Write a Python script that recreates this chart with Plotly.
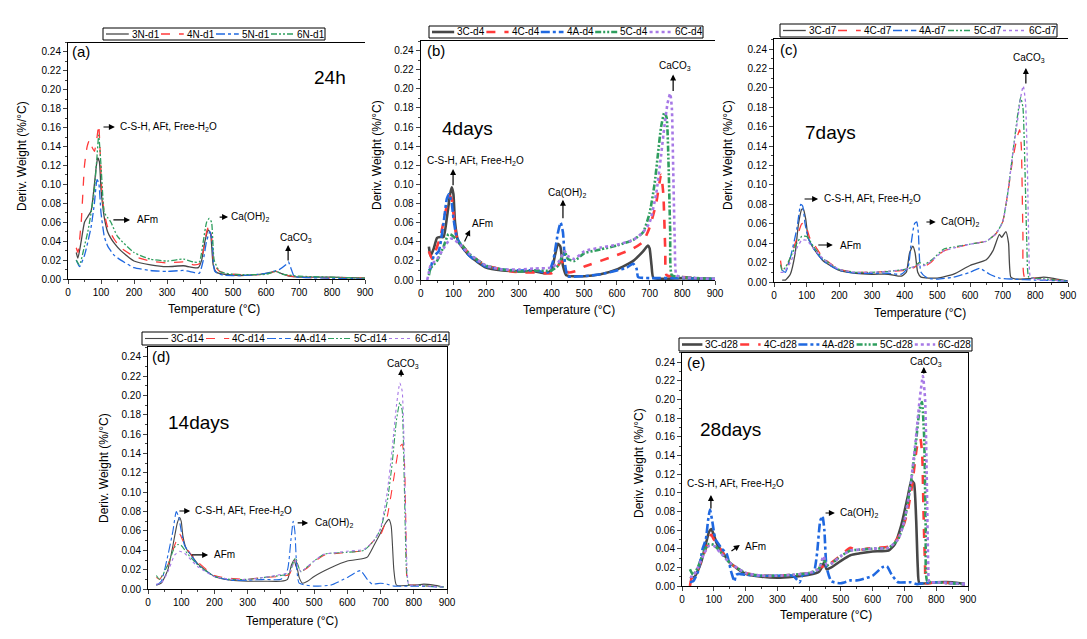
import plotly.graph_objects as go

W, H = 1087, 639
OFF = 8  # the page body adds an 8px margin around the figure

# ---------------- data (Temperature °C, Deriv. weight %/°C) ----------------
# (a) 24h
a_3N = [(25,0.028),(30,0.022),(40,0.04),(50,0.06),(60,0.066),(70,0.072),(80,0.1),(86,0.12),(90,0.128),(95,0.124),
        (100,0.095),(105,0.078),(110,0.065),(120,0.05),(130,0.043),(140,0.038),(160,0.03),(200,0.019),(250,0.015),
        (300,0.013),(350,0.014),(380,0.012),(395,0.012),(405,0.02),(415,0.04),(425,0.052),(432,0.048),(440,0.015),
        (450,0.007),(500,0.004),(550,0.004),(600,0.006),(630,0.008),(645,0.006),(670,0.003),(700,0.002),(800,0.002),(900,0.001)]
a_4N = [(25,0.033),(30,0.028),(40,0.06),(50,0.12),(58,0.14),(65,0.147),(72,0.14),(80,0.135),(88,0.15),(93,0.163),
        (98,0.13),(103,0.09),(110,0.07),(120,0.055),(140,0.042),(160,0.033),(200,0.024),(250,0.019),(300,0.017),
        (350,0.018),(380,0.015),(398,0.016),(410,0.03),(420,0.05),(427,0.056),(435,0.045),(443,0.015),(460,0.008),
        (500,0.005),(600,0.005),(630,0.008),(660,0.004),(700,0.002),(900,0.001)]
a_5N = [(25,0.02),(35,0.013),(50,0.025),(70,0.055),(80,0.08),(88,0.105),(93,0.102),(100,0.07),(110,0.045),(120,0.035),
        (140,0.025),(160,0.02),(200,0.012),(250,0.009),(300,0.008),(350,0.009),(380,0.007),(398,0.006),(410,0.02),
        (420,0.04),(430,0.05),(437,0.04),(445,0.008),(470,0.004),(550,0.004),(600,0.006),(640,0.01),(660,0.015),
        (668,0.018),(675,0.012),(685,0.003),(700,0.002),(900,0.0)]
a_6N = [(25,0.02),(35,0.015),(50,0.035),(60,0.05),(70,0.07),(80,0.095),(88,0.13),(93,0.152),(100,0.12),(105,0.09),
        (110,0.07),(120,0.065),(130,0.06),(150,0.045),(200,0.028),(250,0.021),(300,0.019),(350,0.021),(380,0.018),
        (398,0.018),(410,0.04),(420,0.06),(428,0.064),(435,0.06),(443,0.02),(460,0.008),(500,0.005),(600,0.005),
        (630,0.008),(650,0.005),(700,0.003),(900,0.001)]

# (b) 4 days
b_3C = [(25,0.035),(30,0.025),(40,0.033),(50,0.044),(60,0.045),(70,0.045),(80,0.065),(90,0.09),(95,0.097),(100,0.09),
        (105,0.06),(115,0.04),(130,0.033),(150,0.025),(200,0.013),(250,0.01),(300,0.009),(350,0.009),(380,0.007),
        (400,0.01),(410,0.025),(420,0.038),(427,0.035),(435,0.015),(445,0.005),(500,0.004),(550,0.006),(600,0.011),
        (650,0.02),(680,0.03),(695,0.036),(700,0.033),(706,0.015),(712,0.002),(800,0.002),(900,0.001)]
b_4C = [(25,0.03),(35,0.022),(45,0.03),(60,0.045),(75,0.07),(88,0.088),(95,0.085),(100,0.07),(110,0.045),(130,0.035),
        (150,0.027),(200,0.015),(250,0.011),(300,0.008),(350,0.008),(400,0.007),(415,0.012),(430,0.02),(440,0.015),
        (450,0.008),(480,0.01),(500,0.014),(550,0.02),(600,0.026),(650,0.033),(680,0.04),(700,0.055),(720,0.08),
        (735,0.11),(742,0.09),(748,0.03),(752,0.005),(800,0.003),(900,0.001)]
b_4A = [(25,0.01),(30,0.012),(40,0.025),(55,0.03),(70,0.06),(80,0.085),(87,0.09),(95,0.08),(100,0.065),(110,0.045),
        (130,0.033),(150,0.025),(200,0.014),(250,0.011),(300,0.01),(350,0.01),(390,0.008),(405,0.02),(420,0.05),
        (428,0.06),(435,0.05),(442,0.015),(450,0.004),(500,0.004),(550,0.006),(600,0.01),(630,0.013),(650,0.017),
        (660,0.012),(665,0.003),(700,0.002),(800,0.002),(900,0.001)]
b_5C = [(25,0.005),(30,0.012),(50,0.02),(70,0.035),(85,0.048),(95,0.047),(110,0.042),(130,0.035),(150,0.027),(200,0.015),
        (250,0.011),(300,0.009),(350,0.01),(400,0.01),(420,0.015),(440,0.03),(450,0.022),(470,0.02),(500,0.028),
        (550,0.032),(600,0.036),(650,0.042),(680,0.05),(700,0.07),(715,0.1),(725,0.13),(735,0.16),(745,0.175),
        (752,0.17),(758,0.12),(763,0.05),(768,0.005),(800,0.003),(900,0.001)]
b_6C = [(20,0.0),(25,0.008),(30,0.015),(50,0.022),(70,0.033),(90,0.043),(100,0.043),(120,0.037),(150,0.027),(200,0.015),
        (250,0.011),(300,0.011),(350,0.012),(400,0.013),(420,0.018),(440,0.03),(450,0.025),(470,0.022),(500,0.03),
        (550,0.034),(600,0.037),(650,0.042),(680,0.05),(700,0.06),(720,0.09),(735,0.13),(745,0.16),(755,0.185),
        (763,0.195),(768,0.18),(772,0.12),(777,0.04),(782,0.005),(800,0.003),(900,0.001)]

# (c) 7 days
c_3C = [(25,0.002),(35,0.002),(50,0.008),(65,0.03),(75,0.06),(85,0.075),(90,0.075),(97,0.065),(105,0.045),(120,0.035),
        (150,0.022),(200,0.012),(250,0.009),(300,0.008),(350,0.008),(390,0.006),(405,0.01),(415,0.03),(425,0.037),
        (432,0.03),(440,0.01),(450,0.005),(500,0.004),(550,0.008),(600,0.017),(650,0.023),(670,0.032),(690,0.049),
        (697,0.046),(710,0.052),(718,0.04),(725,0.005),(740,0.003),(800,0.004),(825,0.005),(850,0.004),(900,0.001)]
c_4C = [(20,0.022),(25,0.013),(35,0.012),(50,0.025),(70,0.045),(85,0.06),(95,0.06),(110,0.045),(130,0.035),(150,0.025),
        (200,0.013),(250,0.01),(300,0.01),(350,0.011),(400,0.012),(430,0.015),(445,0.02),(460,0.016),(480,0.02),
        (500,0.027),(520,0.032),(550,0.035),(600,0.039),(650,0.042),(680,0.05),(700,0.062),(715,0.09),(730,0.125),
        (745,0.15),(752,0.157),(757,0.14),(762,0.05),(767,0.005),(800,0.004),(900,0.001)]
c_4A = [(25,0.012),(35,0.01),(50,0.025),(70,0.055),(82,0.08),(88,0.078),(95,0.06),(105,0.045),(120,0.035),(150,0.022),
        (200,0.012),(250,0.009),(300,0.009),(350,0.009),(390,0.008),(410,0.015),(420,0.04),(430,0.06),(437,0.062),
        (442,0.05),(450,0.01),(470,0.004),(500,0.003),(550,0.005),(600,0.01),(630,0.014),(660,0.008),(690,0.004),
        (730,0.003),(800,0.002),(900,0.001)]
c_5C = [(20,0.018),(25,0.012),(35,0.015),(50,0.025),(70,0.04),(85,0.047),(100,0.047),(120,0.037),(150,0.024),(200,0.013),
        (250,0.01),(300,0.01),(350,0.011),(400,0.013),(430,0.016),(445,0.02),(460,0.018),(480,0.022),(500,0.028),
        (520,0.034),(550,0.036),(600,0.039),(650,0.042),(680,0.05),(700,0.062),(715,0.09),(730,0.13),(745,0.17),
        (755,0.19),(762,0.18),(768,0.12),(774,0.04),(780,0.005),(800,0.004),(900,0.001)]
c_6C = [(20,0.01),(30,0.01),(50,0.02),(70,0.035),(85,0.043),(100,0.043),(120,0.035),(150,0.024),(200,0.013),(250,0.01),
        (300,0.01),(350,0.011),(400,0.013),(430,0.016),(445,0.018),(460,0.017),(480,0.021),(500,0.027),(520,0.032),
        (550,0.035),(600,0.039),(650,0.042),(680,0.05),(700,0.062),(715,0.09),(730,0.13),(745,0.165),(755,0.19),
        (763,0.202),(770,0.185),(775,0.13),(780,0.04),(785,0.005),(800,0.003),(900,0.001)]

# (d) 14 days
d_3C = [(25,0.004),(40,0.006),(60,0.02),(75,0.045),(88,0.068),(95,0.074),(100,0.07),(105,0.055),(115,0.042),(130,0.035),
        (150,0.026),(200,0.013),(250,0.009),(300,0.008),(350,0.008),(400,0.008),(420,0.01),(432,0.025),(440,0.03),
        (445,0.024),(450,0.02),(455,0.012),(465,0.006),(480,0.008),(500,0.013),(550,0.022),(600,0.029),(640,0.031),
        (660,0.033),(680,0.045),(700,0.058),(715,0.068),(725,0.072),(732,0.065),(740,0.02),(748,0.004),(800,0.004),
        (830,0.005),(860,0.004),(890,0.002)]
d_4C = [(25,0.012),(35,0.01),(60,0.025),(80,0.045),(95,0.057),(105,0.05),(120,0.04),(150,0.028),(200,0.014),(250,0.011),
        (300,0.01),(350,0.012),(400,0.013),(425,0.015),(440,0.028),(445,0.03),(450,0.025),(460,0.018),(480,0.022),
        (500,0.028),(530,0.035),(550,0.036),(600,0.038),(650,0.04),(680,0.05),(700,0.056),(720,0.075),(740,0.115),
        (755,0.145),(765,0.15),(772,0.13),(777,0.05),(782,0.005),(800,0.004),(890,0.002)]
d_4A = [(25,0.004),(40,0.008),(60,0.035),(75,0.06),(85,0.08),(92,0.075),(100,0.06),(110,0.045),(130,0.035),(150,0.025),
        (200,0.013),(250,0.009),(300,0.009),(350,0.01),(400,0.01),(420,0.02),(430,0.05),(437,0.07),(442,0.06),
        (448,0.02),(455,0.006),(500,0.003),(550,0.004),(600,0.012),(630,0.018),(640,0.019),(660,0.01),(675,0.005),
        (700,0.006),(720,0.005),(740,0.003),(800,0.003),(890,0.002)]
d_5C = [(25,0.014),(35,0.01),(60,0.025),(80,0.043),(90,0.046),(100,0.045),(120,0.036),(150,0.025),(200,0.013),(250,0.01),
        (300,0.01),(350,0.012),(400,0.014),(425,0.016),(440,0.03),(445,0.032),(450,0.026),(460,0.018),(480,0.023),
        (500,0.029),(530,0.036),(550,0.037),(600,0.038),(650,0.04),(680,0.05),(700,0.062),(720,0.09),(735,0.13),
        (748,0.175),(758,0.193),(765,0.185),(772,0.1),(778,0.02),(785,0.004),(800,0.004),(890,0.002)]
d_6C = [(25,0.005),(40,0.006),(60,0.018),(80,0.035),(95,0.039),(110,0.037),(130,0.03),(150,0.023),(200,0.013),(250,0.01),
        (300,0.01),(350,0.012),(400,0.015),(425,0.017),(440,0.028),(445,0.03),(450,0.024),(460,0.018),(480,0.023),
        (500,0.029),(530,0.036),(550,0.037),(600,0.039),(650,0.041),(680,0.05),(700,0.063),(720,0.1),(735,0.145),
        (748,0.19),(758,0.213),(765,0.205),(770,0.16),(775,0.08),(780,0.02),(785,0.004),(800,0.004),(890,0.002)]

# (e) 28 days
e_3C = [(25,0.008),(40,0.01),(60,0.025),(75,0.045),(85,0.058),(92,0.061),(100,0.055),(110,0.045),(130,0.035),(150,0.025),
        (200,0.013),(250,0.01),(300,0.009),(350,0.01),(400,0.012),(430,0.015),(440,0.02),(447,0.025),(455,0.018),
        (470,0.02),(500,0.027),(530,0.033),(560,0.035),(600,0.037),(650,0.038),(670,0.045),(690,0.065),(710,0.095),
        (722,0.113),(730,0.11),(737,0.07),(742,0.02),(747,0.003),(800,0.004),(850,0.004),(890,0.002)]
e_4C = [(25,0.0),(30,0.008),(50,0.018),(70,0.035),(85,0.05),(92,0.055),(100,0.05),(120,0.04),(150,0.025),(200,0.014),
        (250,0.011),(300,0.011),(350,0.012),(400,0.014),(430,0.018),(440,0.021),(450,0.02),(470,0.025),(500,0.033),
        (530,0.041),(550,0.038),(580,0.04),(620,0.041),(660,0.043),(690,0.058),(710,0.08),(725,0.11),(740,0.15),
        (750,0.158),(756,0.14),(760,0.08),(765,0.02),(768,0.003),(800,0.004),(890,0.002)]
e_4A = [(25,0.004),(35,0.005),(50,0.015),(65,0.04),(75,0.05),(82,0.07),(88,0.082),(95,0.07),(105,0.05),(115,0.045),
        (125,0.04),(140,0.035),(155,0.015),(165,0.005),(170,0.012),(180,0.013),(200,0.012),(250,0.011),(300,0.011),
        (350,0.011),(370,0.004),(380,0.012),(400,0.013),(415,0.015),(425,0.035),(435,0.07),(442,0.075),(448,0.06),
        (455,0.02),(470,0.005),(500,0.003),(530,0.006),(550,0.006),(600,0.011),(630,0.02),(645,0.021),(660,0.012),
        (680,0.004),(720,0.004),(740,0.002),(760,0.003),(800,0.004),(890,0.002)]
e_5C = [(25,0.018),(35,0.012),(50,0.02),(70,0.038),(85,0.045),(100,0.044),(120,0.037),(150,0.025),(200,0.014),(250,0.011),
        (300,0.011),(350,0.012),(400,0.014),(430,0.018),(445,0.03),(455,0.022),(470,0.024),(500,0.032),(530,0.038),
        (560,0.039),(600,0.04),(650,0.041),(680,0.05),(700,0.07),(720,0.11),(735,0.15),(748,0.19),(755,0.197),
        (762,0.16),(767,0.06),(772,0.005),(800,0.004),(890,0.002)]
e_6C = [(25,0.01),(35,0.01),(50,0.02),(70,0.035),(85,0.043),(100,0.043),(120,0.036),(150,0.025),(200,0.014),(250,0.011),
        (300,0.011),(350,0.012),(400,0.014),(430,0.018),(445,0.032),(455,0.023),(470,0.024),(500,0.032),(530,0.038),
        (560,0.039),(600,0.04),(650,0.041),(680,0.05),(700,0.07),(720,0.11),(735,0.155),(748,0.2),(758,0.225),
        (765,0.2),(770,0.12),(775,0.02),(778,0.004),(800,0.004),(890,0.002)]

panel_series = [
    [("3N-d1", a_3N), ("4N-d1", a_4N), ("5N-d1", a_5N), ("6N-d1", a_6N)],
    [("3C-d4", b_3C), ("4C-d4", b_4C), ("4A-d4", b_4A), ("5C-d4", b_5C), ("6C-d4", b_6C)],
    [("3C-d7", c_3C), ("4C-d7", c_4C), ("4A-d7", c_4A), ("5C-d7", c_5C), ("6C-d7", c_6C)],
    [("3C-d14", d_3C), ("4C-d14", d_4C), ("4A-d14", d_4A), ("5C-d14", d_5C), ("6C-d14", d_6C)],
    [("3C-d28", e_3C), ("4C-d28", e_4C), ("4A-d28", e_4A), ("5C-d28", e_5C), ("6C-d28", e_6C)],
]
panel_letters = ["(a)", "(b)", "(c)", "(d)", "(e)"]
panel_ages = ["24h", "4days", "7days", "14days", "28days"]
x_ticks = [0, 100, 200, 300, 400, 500, 600, 700, 800, 900]
y_ticks = [0.00, 0.02, 0.04, 0.06, 0.08, 0.10, 0.12, 0.14, 0.16, 0.18, 0.20, 0.22, 0.24]

# ---------------- styling / layout ----------------
FONT = "Arial, Liberation Sans, sans-serif"
styles = [
    dict(color="#474747", dash="solid"),
    dict(color="#FF3A3A", dash="dash"),
    dict(color="#1F68E0", dash="dashdot"),
    dict(color="#2E9E5E", dash="6px,2px,2px,2px,2px,2px"),
    dict(color="#A779E6", dash="dot"),
]


def px_x(px):
    return (px - OFF) / W


def px_y(py):
    return 1 - (py - OFF) / H


# pixel boxes on screen: (left, right, bottom(y=0), top(y=0.25))
boxes = [(68, 365, 279, 42.5), (420.7, 715, 280, 41), (774, 1068, 282, 39.3),
         (148, 447, 589, 347.3), (682, 968, 586, 352.7)]
widths = [1.3, 2.6, 1.3, 1.1, 2.6]
mirror_y = [False, False, False, True, True]
# legend boxes on screen: (left, top, right, bottom)
legend_boxes = [(103, 28, 325, 40), (429, 26, 703, 38), (780, 24, 1057, 37),
                (142, 332, 449, 345), (679, 338, 972, 351)]
LEG_FONT = 10
CHARW = {"-": 0.333, "N": 0.722, "C": 0.722, "A": 0.667, "d": 0.556}

fig = go.Figure()
for p, series in enumerate(panel_series):
    ax = "" if p == 0 else str(p + 1)
    for s, (name, pts) in enumerate(series):
        fig.add_trace(go.Scatter(
            x=[t for t, _ in pts], y=[w for _, w in pts], name=name, mode="lines", showlegend=False,
            line=dict(color=styles[s]["color"], dash=styles[s]["dash"], width=widths[p],
                      shape="spline", smoothing=0.5),
            xaxis="x" + ax, yaxis="y" + ax))

layout = dict(width=W, height=H, margin=dict(l=0, r=0, t=0, b=0, autoexpand=False),
              paper_bgcolor="white", plot_bgcolor="white", showlegend=False,
              font=dict(family=FONT, size=10, color="black"))
for p, (l, r, b, t) in enumerate(boxes):
    ax = "" if p == 0 else str(p + 1)
    layout["xaxis" + ax] = dict(
        domain=[px_x(l), px_x(r)], range=[0, 900], anchor="y" + ax,
        tickvals=x_ticks, ticks="outside", ticklen=4, showline=True, linecolor="black",
        linewidth=1, mirror=True, showgrid=False, zeroline=False,
        minor=dict(dtick=50, ticks="outside", ticklen=2), tickfont=dict(size=10))
    layout["yaxis" + ax] = dict(
        domain=[px_y(b), px_y(t)], range=[0, 0.25], anchor="x" + ax,
        tickvals=y_ticks, tickformat=".2f", ticks="outside", ticklen=4, showline=True,
        linecolor="black", linewidth=1, mirror=mirror_y[p], showgrid=False, zeroline=False,
        minor=dict(dtick=0.01, ticks="outside", ticklen=2), tickfont=dict(size=10))
fig.update_layout(**layout)

# annotations: (text, x, y, xanchor) in data coords, and arrows (tail -> head)
texts = [
    [("C-S-H, AFt, Free-H<sub>2</sub>O", 152, 0.1607, "left"), ("AFm", 203, 0.0624, "left"),
     ("Ca(OH)<sub>2</sub>", 488, 0.0655, "left"), ("CaCO<sub>3</sub>", 691, 0.0433, "center")],
    [("C-S-H, AFt, Free-H<sub>2</sub>O", 169, 0.1247, "center"), ("AFm", 151, 0.0587, "left"),
     ("Ca(OH)<sub>2</sub>", 448, 0.0912, "center"), ("CaCO<sub>3</sub>", 778, 0.2243, "center")],
    [("C-S-H, AFt, Free-H<sub>2</sub>O", 147, 0.0855, "left"), ("AFm", 196, 0.0381, "left"),
     ("Ca(OH)<sub>2</sub>", 505, 0.0618, "left"), ("CaCO<sub>3</sub>", 780, 0.2307, "center")],
    [("C-S-H, AFt, Free-H<sub>2</sub>O", 136, 0.0807, "left"), ("AFm", 193, 0.0352, "left"),
     ("Ca(OH)<sub>2</sub>", 497, 0.0683, "left"), ("CaCO<sub>3</sub>", 768, 0.2327, "center")],
    [("C-S-H, AFt, Free-H<sub>2</sub>O", 167, 0.1093, "center"), ("AFm", 192, 0.0418, "left"),
     ("Ca(OH)<sub>2</sub>", 491, 0.0782, "left"), ("CaCO<sub>3</sub>", 767, 0.240, "center")],
]
arrows = [
    [(103, 0.1607, 142, 0.1607), (133, 0.0624, 188, 0.0624), (455, 0.0655, 485, 0.0655), (667, 0.018, 667, 0.036)],
    [(99, 0.0975, 99, 0.116), (132, 0.0388, 151, 0.0524), (435, 0.0629, 435, 0.0839), (772, 0.196, 772, 0.215)],
    [(89, 0.0855, 135, 0.0855), (131, 0.0381, 180, 0.0381), (462, 0.0618, 495, 0.0618), (771, 0.2029, 771, 0.2204)],
    [(90, 0.0807, 127, 0.0807), (127, 0.0352, 181, 0.0352), (446, 0.0683, 482, 0.0683), (762, 0.2182, 762, 0.2275)],
    [(91, 0.0815, 91, 0.0975), (151, 0.0364, 182, 0.0439), (447, 0.0782, 481, 0.0782), (761, 0.2262, 761, 0.2347)],
]
age_pos = [(794, 0.2125), (142, 0.158), (174, 0.1545), (151, 0.1727), (154, 0.1672)]
letter_x = [6, 13, 12, 6, 9]

anns = []
shapes = []
for p in range(5):
    ax = "" if p == 0 else str(p + 1)
    xr, yr = "x" + ax, "y" + ax
    anns.append(dict(text=panel_letters[p], x=letter_x[p], y=0.24, xref=xr, yref=yr, xanchor="left",
                     yanchor="middle", showarrow=False, font=dict(size=15)))
    anns.append(dict(text=panel_ages[p], x=age_pos[p][0], y=age_pos[p][1], xref=xr, yref=yr,
                     xanchor="center", yanchor="middle", showarrow=False, font=dict(size=19)))
    for (tx, x, y, xa) in texts[p]:
        anns.append(dict(text=tx, x=x, y=y, xref=xr, yref=yr, xanchor=xa, yanchor="middle",
                         showarrow=False, font=dict(size=10)))
    for (x0, y0, x1, y1) in arrows[p]:
        anns.append(dict(text="", x=x1, y=y1, ax=x0, ay=y0, xref=xr, yref=yr, axref=xr, ayref=yr,
                         showarrow=True, arrowhead=2, arrowsize=1, arrowwidth=1.2, arrowcolor="black",
                         standoff=0, startstandoff=0))

    # legend drawn as a framed row: line sample + series name
    lx0, ly0, lx1, ly1 = legend_boxes[p]
    shapes.append(dict(type="rect", xref="paper", yref="paper", x0=px_x(lx0), x1=px_x(lx1),
                       y0=px_y(ly1), y1=px_y(ly0), line=dict(color="black", width=1),
                       fillcolor="white", layer="above"))
    n = len(panel_series[p])
    pitch = (lx1 - lx0 - 2) / n
    ym = px_y((ly0 + ly1) / 2)
    for s, (name, _) in enumerate(panel_series[p]):
        ex = lx0 + 1 + s * pitch
        tw = sum(CHARW.get(ch, 0.556) for ch in name) * LEG_FONT
        txt_left = ex + pitch - tw - 1
        shapes.append(dict(type="line", xref="paper", yref="paper", x0=px_x(ex + 2), x1=px_x(txt_left - 2),
                           y0=ym, y1=ym, layer="above",
                           line=dict(color=styles[s]["color"], dash=styles[s]["dash"], width=widths[p])))
        anns.append(dict(text=name, x=px_x(txt_left), y=ym, xref="paper", yref="paper", xanchor="left",
                         yanchor="middle", showarrow=False, font=dict(size=LEG_FONT), borderpad=0))

# axis titles (screen pixel positions)
ytitle_pos = [(22, 156), (377, 155), (728, 155), (104, 468), (639, 463)]
xtitle_pos = [(214, 309), (569, 310), (920, 313), (292, 621), (826, 615)]
for (px, py) in ytitle_pos:
    anns.append(dict(text="Deriv. Weight (%/°C)", x=px_x(px), y=px_y(py), xref="paper", yref="paper",
                     textangle=-90, showarrow=False, xanchor="center", yanchor="middle", font=dict(size=12)))
for (px, py) in xtitle_pos:
    anns.append(dict(text="Temperature (°C)", x=px_x(px), y=px_y(py), xref="paper", yref="paper",
                     showarrow=False, xanchor="center", yanchor="middle", font=dict(size=12)))

fig.update_layout(annotations=anns, shapes=shapes)
fig.write_html("out.html")
